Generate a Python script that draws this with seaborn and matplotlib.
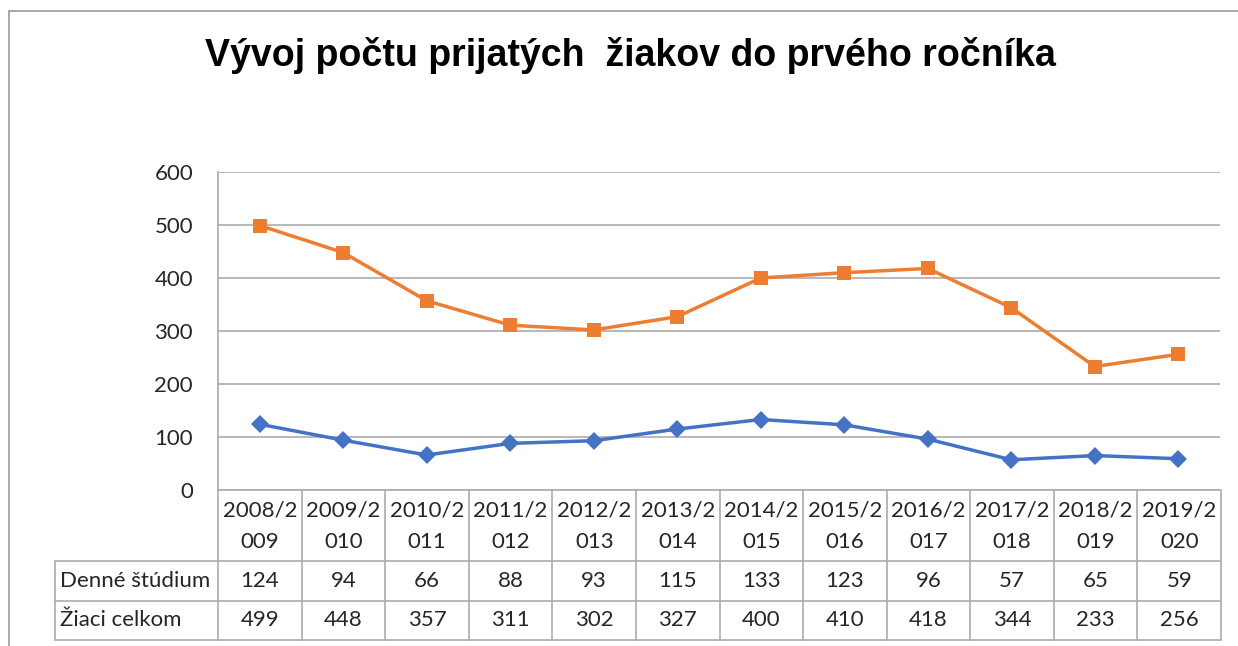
import matplotlib.pyplot as plt
import seaborn as sns
from matplotlib.lines import Line2D

years = ["2008/2\n009", "2009/2\n010", "2010/2\n011", "2011/2\n012", "2012/2\n013", "2013/2\n014",
         "2014/2\n015", "2015/2\n016", "2016/2\n017", "2017/2\n018", "2018/2\n019", "2019/2\n020"]
denne_studium = [124, 94, 66, 88, 93, 115, 133, 123, 96, 57, 65, 59]
ziaci_celkom = [499, 448, 357, 311, 302, 327, 400, 410, 418, 344, 233, 256]
series_names = ["Denné štúdium", "Žiaci celkom"]
y_ticks = [0, 100, 200, 300, 400, 500, 600]

BLUE = "#4472C4"
ORANGE = "#ED7D31"
GRID = "#ABABAB"
INK = "#262626"
FS = 16

sns.set_style("white")
plt.rcParams["font.family"] = ["Lato", "DejaVu Sans"]

W, H = 1238, 646
fig = plt.figure(figsize=(W / 100, H / 100), dpi=100)
# plot area in pixels: x 218..1220, y 172..490
ax = fig.add_axes([218 / W, (H - 490) / H, 1002 / W, 318 / H])

xs = list(range(len(years)))
sns.lineplot(x=xs, y=ziaci_celkom, ax=ax, color=ORANGE, marker="s", markersize=9.5,
             markeredgewidth=0, linewidth=2.5)
sns.lineplot(x=xs, y=denne_studium, ax=ax, color=BLUE, marker="D", markersize=9,
             markeredgewidth=0, linewidth=2.5)

ax.set_xlim(-0.5, len(years) - 0.5)
ax.set_ylim(0, 600)
ax.set_yticks(y_ticks)
ax.set_xticks([])
ax.tick_params(axis="y", length=0, pad=18, labelsize=FS, labelcolor=INK)
ax.grid(axis="y", color=GRID, linewidth=1.2)
ax.set_axisbelow(True)
for side in ("top", "right"):
    ax.spines[side].set_visible(False)
for side in ("left", "bottom"):
    ax.spines[side].set_color(GRID)
    ax.spines[side].set_linewidth(1.2)

# data table under the plot (Excel style), drawn in its own axes
# x uses the same category units as the plot; y runs top-down in pixel rows
n = len(years)
label_span = 163 / (1002 / n)          # row-label column width in category units
x_left = -0.5 - label_span
tax = fig.add_axes([55 / W, (H - 640) / H, 1166 / W, 150 / H])
tax.set_xlim(x_left, n - 0.5)
tax.set_ylim(150, 0)
tax.axis("off")
row_edges = [0, 71, 110.5, 150]
line_kw = dict(color=GRID, linewidth=1.2, clip_on=False)

for j in range(n + 1):
    tax.plot([j - 0.5, j - 0.5], [row_edges[0], row_edges[-1]], **line_kw)
tax.plot([x_left, x_left], [row_edges[1], row_edges[-1]], **line_kw)
for yy in row_edges[1:]:
    tax.plot([x_left, n - 0.5], [yy, yy], **line_kw)

for j, yr in enumerate(years):
    tax.text(j, (row_edges[0] + row_edges[1]) / 2 + 1, yr, ha="center", va="center",
             fontsize=FS, color=INK, linespacing=1.7)
for i, (name, vals) in enumerate(zip(series_names, [denne_studium, ziaci_celkom])):
    yc = (row_edges[i + 1] + row_edges[i + 2]) / 2
    tax.text(x_left + 0.06, yc, name, ha="left", va="center", fontsize=FS, color=INK)
    for j, v in enumerate(vals):
        tax.text(j, yc, str(v), ha="center", va="center", fontsize=FS, color=INK)

# chart area border (left and top edge visible)
fig.add_artist(Line2D([9 / W, 9 / W], [0, 1 - 11 / H], color="#9A9A9A", linewidth=1.2))
fig.add_artist(Line2D([9 / W, 1], [1 - 11 / H, 1 - 11 / H], color="#9A9A9A", linewidth=1.2))

fig.text(630 / W, 1 - 56 / H, "Vývoj počtu prijatých  žiakov do prvého ročníka",
         ha="center", va="center", fontsize=27, fontweight="bold",
         family=["Liberation Sans", "DejaVu Sans"], color="black")

fig.savefig("out.png", dpi=100, facecolor="white")
